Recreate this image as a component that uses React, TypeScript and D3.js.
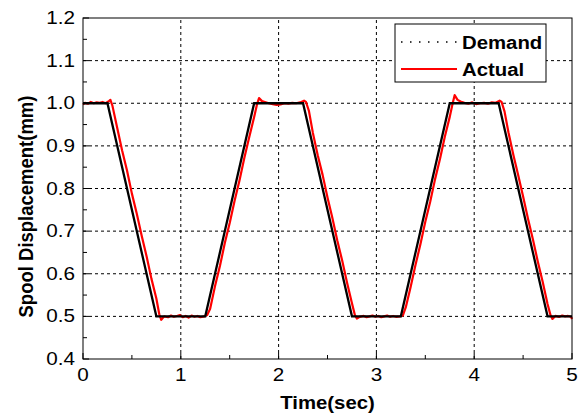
import React, { useRef, useEffect } from 'react';
import { select, scaleLinear, line, range } from "d3";

// demand trapezoid (time s, displacement mm)
const demandT = [0, 0.25, 0.75, 1.25, 1.75, 2.25, 2.75, 3.25, 3.75, 4.25, 4.75, 5];
const demandV = [1, 1, 0.5, 0.5, 1, 1, 0.5, 0.5, 1, 1, 0.5, 0.5];

const actualT = [
  0.00, 0.02, 0.05, 0.08, 0.11, 0.14, 0.17, 0.20, 0.23, 0.26, 0.28, 0.30,
  0.35, 0.40, 0.45, 0.50, 0.55, 0.60, 0.65, 0.70, 0.75, 0.78, 0.80, 0.83,
  0.87, 0.90, 0.93, 0.96, 0.99, 1.02, 1.05, 1.08, 1.11, 1.14, 1.17, 1.20,
  1.24, 1.27, 1.30, 1.35, 1.40, 1.45, 1.50, 1.55, 1.60, 1.65, 1.70, 1.75,
  1.78, 1.80, 1.83, 1.86, 1.90, 1.94, 1.98, 2.02, 2.06, 2.10, 2.14, 2.18,
  2.22, 2.26, 2.28, 2.31, 2.35, 2.40, 2.45, 2.50, 2.55, 2.60, 2.65, 2.70,
  2.75, 2.78, 2.80, 2.83, 2.87, 2.90, 2.93, 2.96, 2.99, 3.02, 3.05, 3.08,
  3.11, 3.14, 3.17, 3.20, 3.24, 3.27, 3.30, 3.35, 3.40, 3.45, 3.50, 3.55,
  3.60, 3.65, 3.70, 3.75, 3.78, 3.80, 3.83, 3.86, 3.90, 3.94, 3.98, 4.02,
  4.06, 4.10, 4.14, 4.18, 4.22, 4.26, 4.28, 4.31, 4.35, 4.40, 4.45, 4.50,
  4.55, 4.60, 4.65, 4.70, 4.75, 4.78, 4.80, 4.83, 4.87, 4.90, 4.93, 4.96,
  4.99, 5.00,
];
const actualV = [
  0.997, 1.001, 0.999, 1.003, 1.000, 1.002, 1.001, 1.003, 1.000, 1.004, 1.008, 0.995,
  0.942, 0.889, 0.842, 0.788, 0.741, 0.689, 0.641, 0.588, 0.542, 0.505, 0.492, 0.500,
  0.498, 0.502, 0.499, 0.501, 0.503, 0.498, 0.501, 0.497, 0.502, 0.499, 0.501, 0.498,
  0.500, 0.503, 0.518, 0.571, 0.618, 0.672, 0.719, 0.771, 0.819, 0.872, 0.921, 0.968,
  0.998, 1.012, 1.005, 1.003, 1.000, 0.998, 0.996, 0.997, 1.000, 0.999, 1.001, 1.000,
  1.002, 1.006, 1.003, 0.982, 0.931, 0.878, 0.832, 0.779, 0.731, 0.678, 0.631, 0.579,
  0.531, 0.503, 0.495, 0.499, 0.501, 0.498, 0.500, 0.502, 0.499, 0.501, 0.498, 0.500,
  0.502, 0.499, 0.501, 0.499, 0.500, 0.502, 0.521, 0.569, 0.621, 0.669, 0.722, 0.769,
  0.822, 0.869, 0.922, 0.968, 1.000, 1.019, 1.008, 1.004, 1.001, 0.999, 1.002, 0.998,
  1.000, 1.001, 0.999, 1.002, 1.001, 1.006, 1.003, 0.981, 0.932, 0.879, 0.831, 0.781,
  0.729, 0.681, 0.629, 0.581, 0.529, 0.503, 0.494, 0.501, 0.499, 0.502, 0.500, 0.501,
  0.499, 0.494,
];

const xTicks = [0, 1, 2, 3, 4, 5];
const yTicks = [0.4, 0.5, 0.6, 0.7, 0.8, 0.9, 1.0, 1.1, 1.2];

const FONT = 'Liberation Sans, Arial, sans-serif';

function App() {
  const rootRef = useRef<SVGSVGElement>(null);
  const margin = ({top: 18, right: 9, bottom: 55, left: 83});
  const width = 581;
  const height = 414;

  useEffect(() => {
    const root = select(rootRef.current);
    root.selectAll('*').remove();

    const xScale = scaleLinear()
      .domain([0, 5])
      .range([margin.left, width - margin.right]);

    const yScale = scaleLinear()
      .domain([0.4, 1.2])
      .range([height - margin.bottom, margin.top]);

    const x0 = margin.left, x1 = width - margin.right;
    const y0 = height - margin.bottom, y1 = margin.top;

    // text in the original looks horizontally stretched a bit
    const label = (x: number, y: number, s: string, size: number, anchor: string, bold = false, sx = 1.12) => {
      root.append('g').attr('transform', `translate(${x},${y}) scale(${sx},1)`)
        .append('text').attr('text-anchor', anchor).attr('font-family', FONT)
        .attr('font-weight', bold ? 'bold' : 'normal').attr('font-size', size).text(s);
    };

    // dashed grid
    const grid = root.append('g').attr('stroke', '#000').attr('stroke-width', 1).attr('stroke-dasharray', '3,3');
    xTicks.slice(1, -1).forEach(t => {
      grid.append('line').attr('x1', xScale(t)).attr('x2', xScale(t)).attr('y1', y0).attr('y2', y1);
    });
    yTicks.slice(1, -1).forEach(t => {
      grid.append('line').attr('x1', x0).attr('x2', x1).attr('y1', yScale(t)).attr('y2', yScale(t));
    });

    // series
    const actual = actualT.map((t, i) => [t, actualV[i]] as [number, number]);
    const demand = demandT.map((t, i) => [t, demandV[i]] as [number, number]);
    const ln = line<[number, number]>().x(d => xScale(d[0])).y(d => yScale(d[1]));

    root.append('path').attr('d', ln(actual)!).attr('fill', 'none')
      .attr('stroke', '#ff0000').attr('stroke-width', 2.2).attr('stroke-linejoin', 'round');
    // dense dotted line in the original reads as solid at this size
    root.append('path').attr('d', ln(demand)!).attr('fill', 'none')
      .attr('stroke', '#000').attr('stroke-width', 2.3);

    // frame
    root.append('rect').attr('x', x0).attr('y', y1).attr('width', x1 - x0).attr('height', y0 - y1)
      .attr('fill', 'none').attr('stroke', '#000').attr('stroke-width', 1);

    // inward ticks, major + minor
    const ticks = root.append('g').attr('stroke', '#000').attr('stroke-width', 1);
    range(0, 5.01, 0.5).forEach(t => {
      const len = Math.abs(t % 1) < 1e-6 ? 6 : 4;
      ticks.append('line').attr('x1', xScale(t)).attr('x2', xScale(t)).attr('y1', y0).attr('y2', y0 - len);
    });
    range(0.4, 1.201, 0.05).forEach((t, i) => {
      const len = i % 2 === 0 ? 6 : 4;
      ticks.append('line').attr('x1', x0).attr('x2', x0 + len).attr('y1', yScale(t)).attr('y2', yScale(t));
    });

    // tick labels
    xTicks.forEach(d => label(xScale(d), y0 + 22, String(d), 18, 'middle', false, 1.15));
    yTicks.forEach(d => label(x0 - 8, yScale(d) + 6, d.toFixed(1), 18, 'end', false, 1.15));

    // axis titles
    label((x0 + x1) / 2, 409, 'Time(sec)', 18.5, 'middle', true, 1.1);
    root.append('text').attr('transform', `translate(33,${(y0 + y1) / 2 + 18}) rotate(-90) scale(1,1.1)`)
      .attr('text-anchor', 'middle').attr('font-family', FONT)
      .attr('font-weight', 'bold').attr('font-size', 18.5).text('Spool Displacement(mm)');

    // legend
    const lg = root.append('g');
    lg.append('rect').attr('x', 395).attr('y', 24).attr('width', 151).attr('height', 58)
      .attr('fill', '#fff').attr('stroke', '#000').attr('stroke-width', 1);
    lg.append('line').attr('x1', 401).attr('x2', 457).attr('y1', 42).attr('y2', 42)
      .attr('stroke', '#000').attr('stroke-width', 1.5).attr('stroke-dasharray', '1.5,7.5');
    lg.append('line').attr('x1', 401).attr('x2', 457).attr('y1', 69).attr('y2', 69)
      .attr('stroke', '#ff0000').attr('stroke-width', 2);
    label(462, 49, 'Demand', 18.5, 'start', true, 1.1);
    label(462, 76, 'Actual', 18.5, 'start', true, 1.1);
  });

  return (
    <div style={{position: 'absolute', top: 0, left: 0}}>
      <svg width={width} height={height} ref={rootRef} style={{display: 'block', background: '#fff'}}></svg>
    </div>
  );
}

export default App;
